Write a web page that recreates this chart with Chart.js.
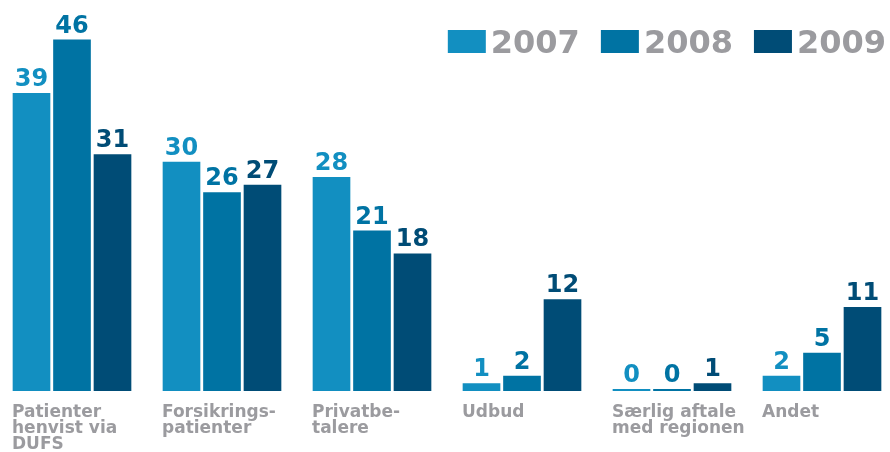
<!DOCTYPE html>
<html>
<head>
<meta charset="utf-8">
<script src="https://cdn.jsdelivr.net/npm/chart.js@4.4.0/dist/chart.umd.min.js"></script>
<style>
  html, body { margin: 0; padding: 0; background: #ffffff; overflow: hidden; width: 890px; height: 452px; }
  #wrap { position: absolute; left: -3px; top: 0; width: 900px; height: 452px; }
</style>
</head>
<body>
<div id="wrap"><canvas id="c"></canvas></div>
<script>
const categories = [
  ["Patienter", "henvist via", "DUFS"],
  ["Forsikrings-", "patienter"],
  ["Privatbe-", "talere"],
  ["Udbud"],
  ["Særlig aftale", "med regionen"],
  ["Andet"]
];
const seriesNames = ["2007", "2008", "2009"];
const values2007 = [39, 30, 28, 1, 0, 2];
const values2008 = [46, 26, 21, 2, 0, 5];
const values2009 = [31, 27, 18, 12, 1, 11];
const seriesColors = ["#128fc1", "#0073a3", "#004c76"];
const labelGrey = "#9b9b9f";
const FONT = "'DejaVu Sans', sans-serif";

const valueLabels = {
  id: 'valueLabels',
  afterDatasetsDraw(chart) {
    const ctx = chart.ctx;
    ctx.save();
    ctx.font = "bold 24px " + FONT;
    ctx.textAlign = 'center';
    ctx.textBaseline = 'alphabetic';
    chart.data.datasets.forEach((ds, di) => {
      const meta = chart.getDatasetMeta(di);
      ctx.fillStyle = ds.backgroundColor;
      meta.data.forEach((bar, i) => {
        ctx.fillText(String(ds.data[i]), bar.x, bar.y - 7);
      });
    });
    ctx.restore();
  }
};

const customLegend = {
  id: 'customLegend',
  afterDraw(chart) {
    const ctx = chart.ctx;
    ctx.save();
    ctx.font = "bold 32px " + FONT;
    ctx.textBaseline = 'alphabetic';
    const boxW = 38, boxH = 23, gapBoxText = 5, gapItems = 21;
    const items = chart.data.datasets.map(ds => ({
      label: ds.label, color: ds.backgroundColor, tw: ctx.measureText(ds.label).width
    }));
    let total = 0;
    items.forEach((it, i) => { total += boxW + gapBoxText + it.tw + (i < items.length - 1 ? gapItems : 0); });
    let x = 889 - total;
    const top = 30;
    items.forEach(it => {
      ctx.fillStyle = it.color;
      ctx.fillRect(x, top, boxW, boxH);
      x += boxW + gapBoxText;
      ctx.fillStyle = labelGrey;
      ctx.fillText(it.label, x, top + boxH);
      x += it.tw + gapItems;
    });
    ctx.restore();
  }
};

new Chart(document.getElementById('c'), {
  type: 'bar',
  data: {
    labels: categories,
    datasets: [
      { label: seriesNames[0], data: values2007, backgroundColor: seriesColors[0] },
      { label: seriesNames[1], data: values2008, backgroundColor: seriesColors[1] },
      { label: seriesNames[2], data: values2009, backgroundColor: seriesColors[2] }
    ]
  },
  options: {
    responsive: true,
    maintainAspectRatio: false,
    animation: false,
    devicePixelRatio: 1,
    layout: { padding: { top: 9, left: 0, right: 0, bottom: 0 } },
    datasets: {
      bar: { categoryPercentage: 0.81, barPercentage: 0.93, minBarLength: 2, borderWidth: 0 }
    },
    plugins: { legend: { display: false }, tooltip: { enabled: false } },
    scales: {
      x: {
        grid: { display: false },
        border: { display: false },
        ticks: {
          color: labelGrey,
          font: { family: FONT, size: 17, weight: 'bold', lineHeight: 16 / 17 },
          align: 'start',
          labelOffset: -60,
          padding: 6,
          autoSkip: false,
          maxRotation: 0,
          minRotation: 0
        },
        afterFit(scale) { scale.height = 61; }
      },
      y: {
        display: false,
        min: 0,
        max: 50
      }
    }
  },
  plugins: [valueLabels, customLegend]
});
</script>
</body>
</html>
